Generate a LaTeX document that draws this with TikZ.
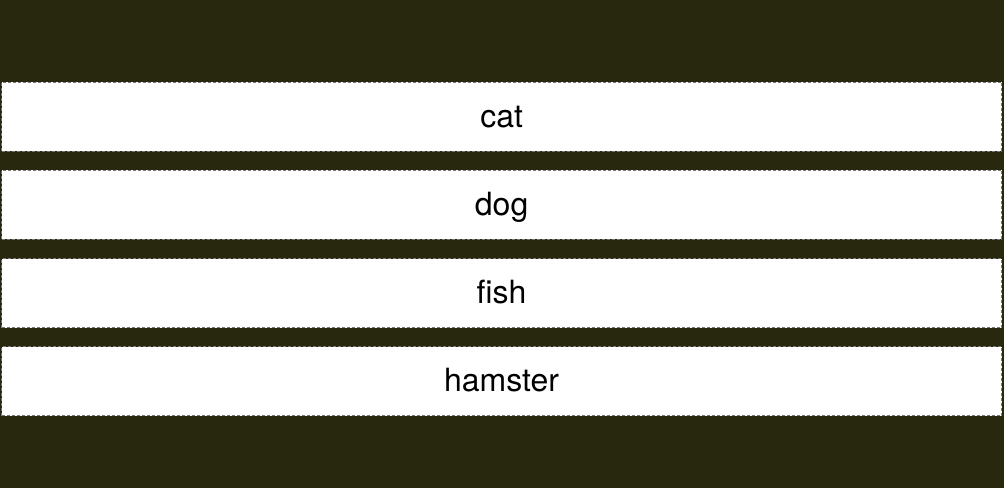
\documentclass[tikz,border=0pt]{standalone}
\usepackage{fontspec}
\setmainfont{TeX Gyre Heros}
\usetikzlibrary{positioning}
\definecolor{bgolive}{RGB}{40,40,14}
\definecolor{rowline}{RGB}{120,120,120}
\tikzset{
	petrow/.style={draw=rowline,dashed,dash pattern=on 3pt off 2pt,line width=1.2pt,fill=white,
		minimum width=1000pt,minimum height=69pt,inner sep=0pt,text height=28pt,text depth=7pt,
		font=\fontsize{32}{36}\selectfont,anchor=north west},
}
\begin{document}
\begin{tikzpicture}[x=1pt,y=-1pt,line join=round]
	\def\gap{18pt} % khoang cach giua cac hang
	\fill[bgolive] (0,0) rectangle (1004,488);
	\useasboundingbox (0,0) rectangle (1004,488);
	% cac hang
	\node[petrow] (cat) at (1,81.5) {cat};
	\node[petrow,below=\gap of cat.south west,anchor=north west] (dog) {dog};
	\node[petrow,below=\gap of dog.south west,anchor=north west] (fish) {fish};
	\node[petrow,below=\gap of fish.south west,anchor=north west] (hamster) {hamster};
\end{tikzpicture}
\end{document}
